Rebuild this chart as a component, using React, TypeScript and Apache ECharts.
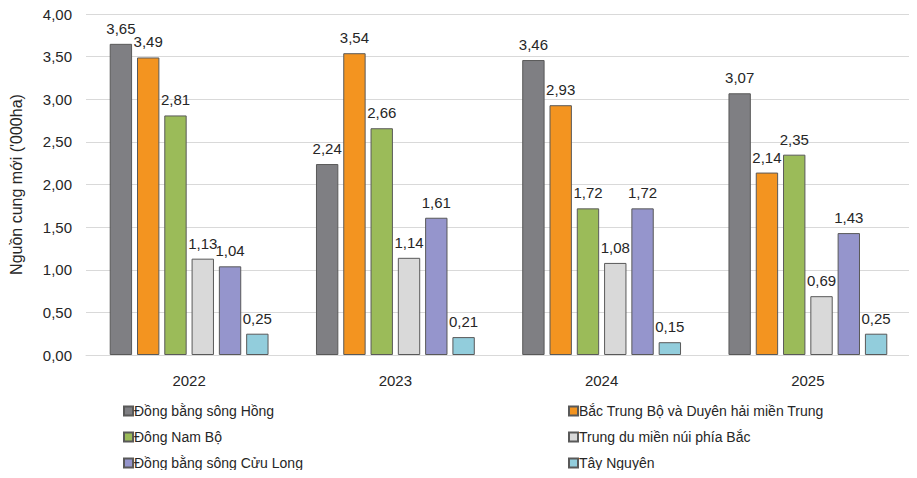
import React, { useEffect, useRef } from "react";
import * as echarts from "echarts";

const years = ["2022", "2023", "2024", "2025"];
const seriesNames = [
  "Đồng bằng sông Hồng",
  "Bắc Trung Bộ và Duyên hải miền Trung",
  "Đông Nam Bộ",
  "Trung du miền núi phía Bắc",
  "Đồng bằng sông Cửu Long",
  "Tây Nguyên",
];
const dongBangSongHong = [3.65, 2.24, 3.46, 3.07];
const bacTrungBo = [3.49, 3.54, 2.93, 2.14];
const dongNamBo = [2.81, 2.66, 1.72, 2.35];
const trungDu = [1.13, 1.14, 1.08, 0.69];
const cuuLong = [1.04, 1.61, 1.72, 1.43];
const tayNguyen = [0.25, 0.21, 0.15, 0.25];
const yTicks = [0, 0.5, 1, 1.5, 2, 2.5, 3, 3.5, 4];

const values = [dongBangSongHong, bacTrungBo, dongNamBo, trungDu, cuuLong, tayNguyen];
const colors = ["#7f7f83", "#f39420", "#9bbb59", "#d9d9d9", "#9595cc", "#92cddc"];
const FONT = "'Liberation Sans Narrow', 'Liberation Sans', Arial, sans-serif";
const fmt = (v: number) => v.toFixed(2).replace(".", ",");

const legendBase = {
  orient: "vertical",
  top: 403,
  padding: 0,
  itemWidth: 9,
  itemHeight: 9,
  itemGap: 10,
  icon: "rect",
  textStyle: { fontFamily: FONT, fontSize: 14, color: "#262626", padding: [0, 0, 0, -4], lineHeight: 16 },
};

export default function App() {
  const ref = useRef<HTMLDivElement>(null);
  useEffect(() => {
    if (!ref.current) return;
    const chart = echarts.init(ref.current, null, { renderer: "svg" });
    chart.setOption({
      animation: false,
      textStyle: { fontFamily: FONT },
      grid: { left: 86, right: 6, top: 14, bottom: 123 },
      legend: [
        { ...legendBase, data: [seriesNames[0], seriesNames[2], seriesNames[4]], left: 123 },
        { ...legendBase, data: [seriesNames[1], seriesNames[3], seriesNames[5]], left: 568 },
      ],
      xAxis: {
        type: "category",
        data: years,
        axisLine: { lineStyle: { color: "#d9d9d9", width: 1 } },
        axisTick: { show: false },
        axisLabel: { fontFamily: FONT, fontSize: 15, color: "#262626", margin: 18 },
      },
      yAxis: {
        type: "value",
        min: yTicks[0],
        max: yTicks[yTicks.length - 1],
        interval: 0.5,
        name: "Nguồn cung mới ('000ha)",
        nameLocation: "middle",
        nameGap: 62,
        nameTextStyle: { fontFamily: FONT, fontSize: 16, color: "#262626" },
        axisLabel: {
          fontFamily: FONT,
          fontSize: 15,
          color: "#262626",
          margin: 14,
          formatter: (v: number) => fmt(v),
        },
        splitLine: { lineStyle: { color: "#d9d9d9", width: 1 } },
      },
      series: seriesNames.map((name, i) => ({
        name,
        type: "bar",
        data: values[i],
        barGap: "22%",
        barCategoryGap: "23%",
        itemStyle: { color: colors[i], borderColor: "#595959", borderWidth: 1 },
        label: {
          show: true,
          position: "top",
          distance: 8,
          fontFamily: FONT,
          fontSize: 15,
          color: "#262626",
          formatter: (p: any) => fmt(p.value),
        },
      })),
    });
    return () => chart.dispose();
  }, []);
  return <div ref={ref} style={{ width: 917, height: 478, margin: -8 }} />;
}
